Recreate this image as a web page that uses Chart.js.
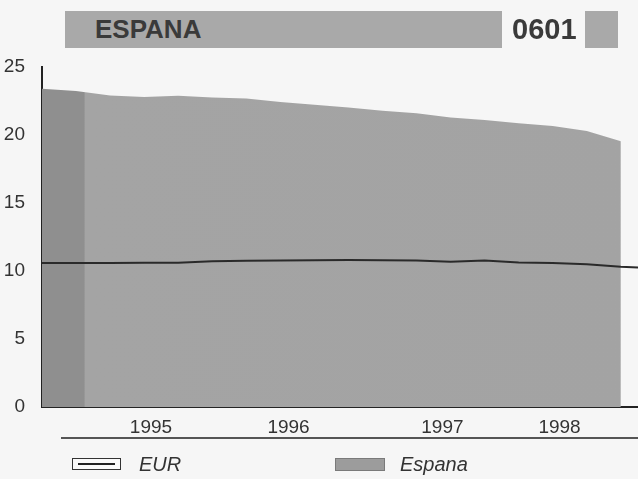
<!DOCTYPE html>
<html>
<head>
<meta charset="utf-8">
<script src="https://cdn.jsdelivr.net/npm/chart.js@4.4.1/dist/chart.umd.min.js"></script>
<style>
  body { margin: 0; background: #f6f6f6; width: 638px; height: 479px; overflow: hidden; position: relative;
         font-family: "Liberation Sans", Arial, sans-serif; color: #333; }
  #chart-1 { position: absolute; left: 0; top: 0; }
  .box { position: absolute; }
  .bar { background: #a9a9a9; }
  .head { position: absolute; top: 11px; height: 37px; line-height: 37px; font-weight: bold; color: #3a3a3a; }
  .leg { position: absolute; top: 454px; font-style: italic; font-size: 20px; line-height: 20px; color: #333; }
</style>
</head>
<body>
<canvas id="chart-1" width="638" height="454"></canvas>

<div class="box bar" style="left:65px;top:11px;width:437px;height:37px"></div>
<div class="head" style="left:95px;font-size:26px">ESPANA</div>
<div class="head" style="left:512px;font-size:29px">0601</div>
<div class="box bar" style="left:585px;top:11px;width:33px;height:37px"></div>

<div class="box" style="left:61px;top:437px;width:577px;height:2px;background:#555"></div>
<div class="box" style="left:72px;top:458px;width:47px;height:10px;border:1.5px solid #333;background:#fafafa"></div>
<div class="box" style="left:78px;top:463px;width:37px;height:2px;background:#222"></div>
<div class="leg" style="left:139px">EUR</div>
<div class="box" style="left:335px;top:458px;width:48px;height:11px;background:#9c9c9c;border:1px solid #7a7a7a"></div>
<div class="leg" style="left:400px">Espana</div>

<script>
// quarterly points, fractional years
const years = [1994.25, 1994.5, 1994.75, 1995.0, 1995.25, 1995.5, 1995.75, 1996.0, 1996.25,
               1996.5, 1996.75, 1997.0, 1997.25, 1997.5, 1997.75, 1998.0, 1998.25, 1998.5];
const espana = [23.4, 23.24, 22.9, 22.8, 22.88, 22.76, 22.68, 22.43, 22.23,
                22.02, 21.78, 21.6, 21.28, 21.1, 20.86, 20.66, 20.3, 19.55];

const eurYears = [1994.25, 1994.5, 1994.75, 1995.0, 1995.25, 1995.5, 1995.75, 1996.0, 1996.25,
                  1996.5, 1996.75, 1997.0, 1997.25, 1997.5, 1997.75, 1998.0, 1998.25, 1998.5, 1998.626];
const eur = [10.6, 10.6, 10.6, 10.61, 10.62, 10.72, 10.76, 10.78, 10.8,
             10.81, 10.8, 10.78, 10.68, 10.78, 10.64, 10.6, 10.5, 10.32, 10.26];

const tickYears = ['1995', '1996', '1997', '1998'];
const tickPos = [1995.05, 1996.06, 1997.19, 1998.05];
const yTicks = [0, 5, 10, 15, 20, 25];

const ctx = document.getElementById('chart-1');

new Chart(ctx, {
  type: 'line',
  data: {
    datasets: [{
      label: 'EUR',
      data: eurYears.map((x, i) => ({ x: x, y: eur[i] })),
      borderColor: '#2a2a2a',
      borderWidth: 2,
      pointRadius: 0,
      fill: false,
      order: 0
    }, {
      label: 'Espana',
      data: years.map((x, i) => ({ x: x, y: espana[i] })),
      borderWidth: 0,
      borderColor: 'rgba(0,0,0,0)',
      pointRadius: 0,
      fill: 'origin',
      order: 1,
      backgroundColor: (c) => {
        const a = c.chart.chartArea;
        if (!a) return '#a4a4a4';
        const g = c.chart.ctx.createLinearGradient(a.left, 0, a.right, 0);
        const f = 42 / (a.right - a.left);
        g.addColorStop(0, '#8f8f8f');
        g.addColorStop(f, '#8f8f8f');
        g.addColorStop(f + 0.002, '#a4a4a4');
        g.addColorStop(1, '#a3a3a3');
        return g;
      }
    }]
  },
  options: {
    responsive: false,
    animation: false,
    layout: { padding: { top: 67, bottom: 6, left: 0, right: 0 } },
    plugins: { legend: { display: false }, tooltip: { enabled: false } },
    scales: {
      x: {
        type: 'linear',
        min: 1994.25,
        max: 1998.626,
        afterBuildTicks: (s) => { s.ticks = tickPos.map(v => ({ value: v })); },
        ticks: {
          callback: (v, i) => tickYears[i],
          font: { size: 19, family: '"Liberation Sans", Arial' },
          color: '#333',
          padding: 9,
          autoSkip: false,
          maxRotation: 0
        },
        grid: { display: false, drawTicks: false },
        border: { color: '#222', width: 2 }
      },
      y: {
        min: 0,
        max: 25,
        afterBuildTicks: (s) => { s.ticks = yTicks.map(v => ({ value: v })); },
        afterFit: (s) => { s.width = 42; },
        ticks: {
          font: { size: 19, family: '"Liberation Sans", Arial' },
          color: '#333',
          padding: 17
        },
        grid: { display: false, drawTicks: false },
        border: { color: '#222', width: 2 }
      }
    }
  }
});
</script>
</body>
</html>
